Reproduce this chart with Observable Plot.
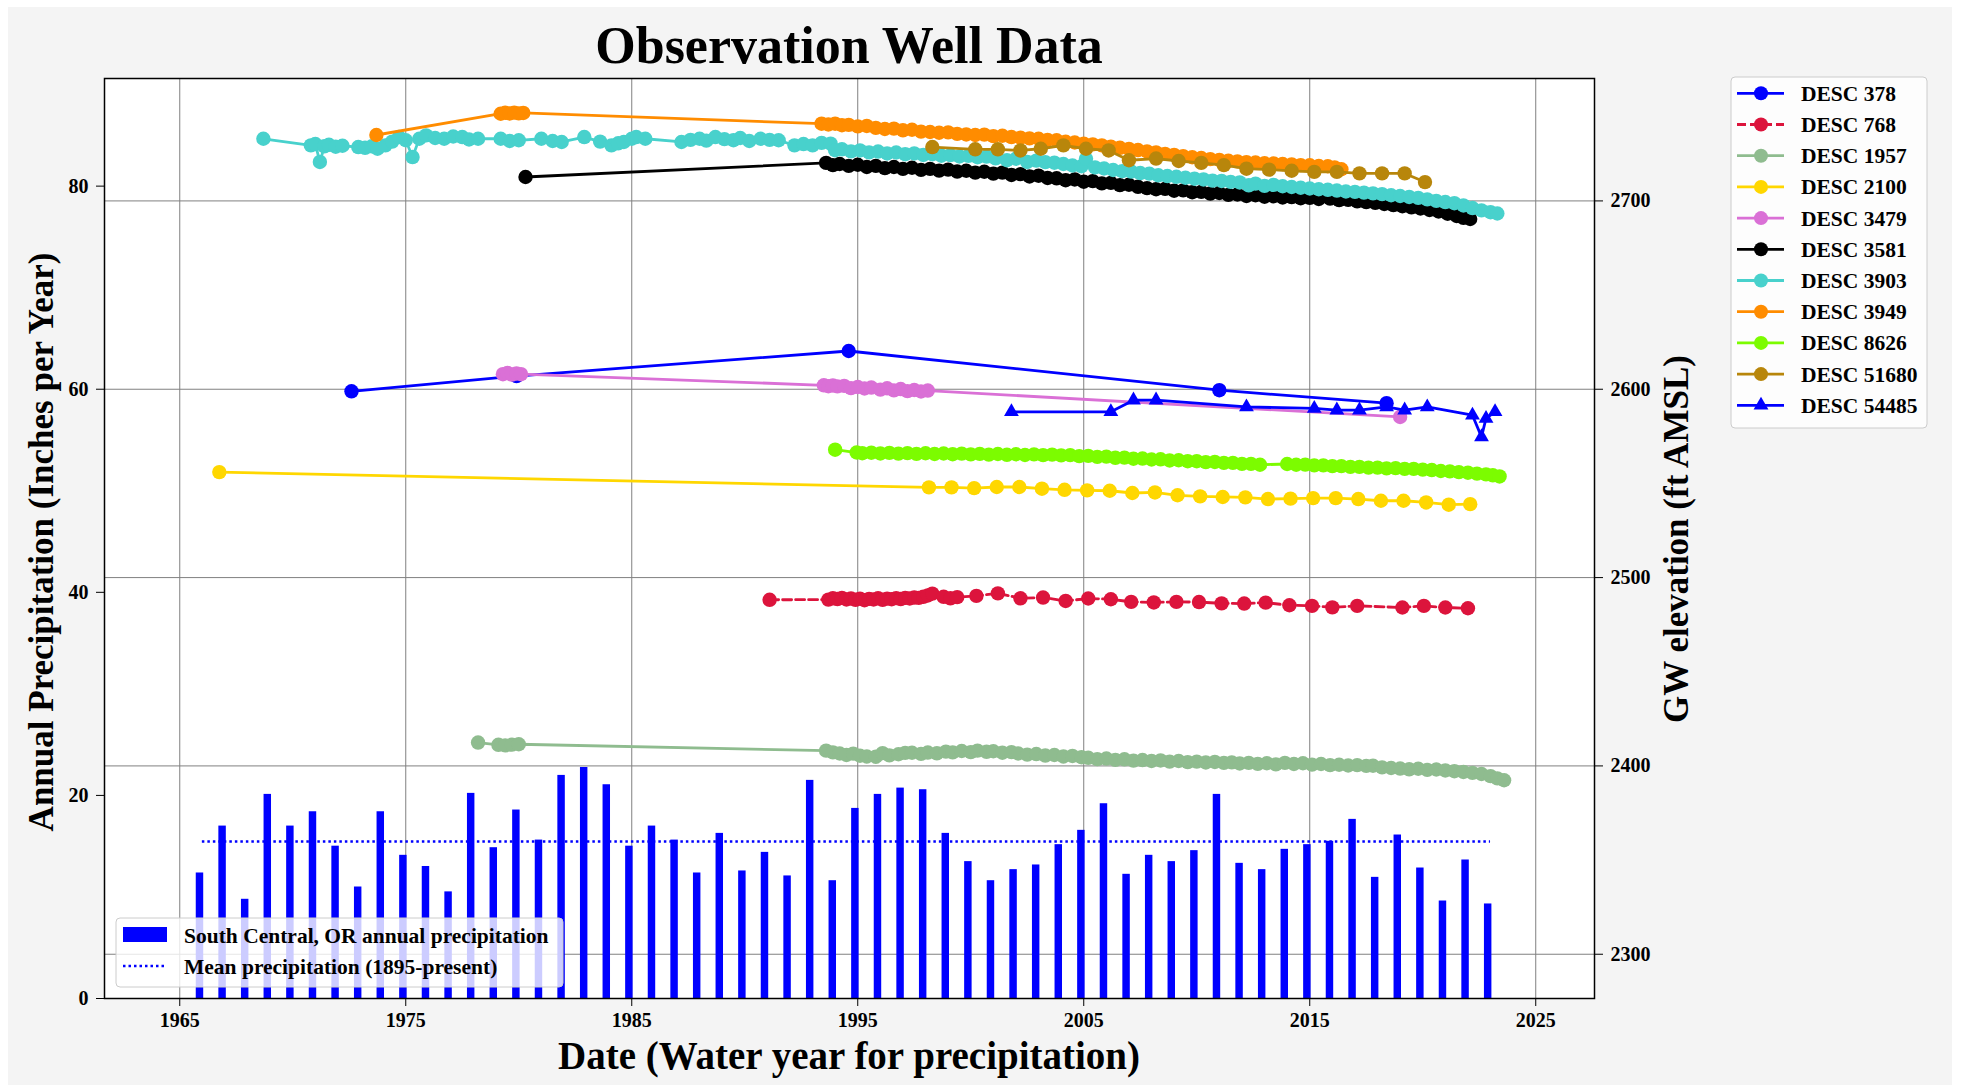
<!DOCTYPE html>
<html><head><meta charset="utf-8">
<script src="https://cdn.jsdelivr.net/npm/d3@7"></script>
<script src="https://cdn.jsdelivr.net/npm/@observablehq/plot@0.6"></script>
<style>
html,body{margin:0;padding:0;background:#fff;}
#bg{position:absolute;left:8px;top:7px;width:1944px;height:1078px;background:#f4f4f4;}
#chart{position:absolute;left:0;top:0;}
</style></head><body><div id="bg"></div><div id="chart"></div>
<script>
// ---------------- DATA ----------------
const precipYears = [1966,1967,1968,1969,1970,1971,1972,1973,1974,1975,1976,1977,1978,1979,1980,1981,1982,1983,1984,1985,1986,1987,1988,1989,1990,1991,1992,1993,1994,1995,1996,1997,1998,1999,2000,2001,2002,2003,2004,2005,2006,2007,2008,2009,2010,2011,2012,2013,2014,2015,2016,2017,2018,2019,2020,2021,2022,2023];
const precipValues = [12.36,16.98,9.77,20.1,16.98,18.39,15.0,10.98,18.39,14.1,13.0,10.5,20.2,14.85,18.56,15.6,21.97,22.75,21.05,15.0,16.98,15.6,12.36,16.26,12.56,14.39,12.07,21.48,11.6,18.72,20.1,20.72,20.56,16.26,13.48,11.6,12.69,13.15,15.15,16.56,19.18,12.23,14.1,13.48,14.56,20.1,13.31,12.69,14.69,15.15,15.48,17.64,11.93,16.1,12.85,9.6,13.64,9.31];
const meanPrecip = 15.45;

const xTicks = [1965,1975,1985,1995,2005,2015,2025];
const precipTicks = [0,20,40,60,80];
const elevTicks = [2300,2400,2500,2600,2700];

const wellNames = ["DESC 378","DESC 768","DESC 1957","DESC 2100","DESC 3479","DESC 3581","DESC 3903","DESC 3949","DESC 8626","DESC 51680","DESC 54485"];
const wellColors = ["#0000ff","#dc143c","#8fbc8f","#ffd700","#da70d6","#000000","#48d1cc","#ff8c00","#7cfc00","#b8860b","#0000ff"];
const wellSymbols = ["circle","circle","circle","circle","circle","circle","circle","circle","circle","circle","triangle"];
const wellDashed = [false,true,false,false,false,false,false,false,false,false,false];

const desc378 = [[1972.6,2598.9],[1979.9,2607.0],[1994.6,2620.3],[2011.0,2599.5],[2018.4,2592.6]];
const desc768 = [[1991.1,2488.2],[1993.7,2488.3],[1993.9,2489.0],[1994.1,2488.6],[1994.3,2489.2],[1994.5,2488.4],[1994.7,2488.9],[1994.9,2488.2],[1995.1,2488.8],[1995.3,2488.0],[1995.5,2488.7],[1995.7,2488.4],[1995.9,2489.0],[1996.1,2488.2],[1996.3,2488.8],[1996.5,2488.5],[1996.7,2489.1],[1996.9,2488.6],[1997.1,2489.2],[1997.3,2488.9],[1997.5,2489.4],[1997.7,2489.2],[1997.9,2489.8],[1998.1,2490.5],[1998.3,2491.5],[1998.8,2489.8],[1999.1,2489.0],[1999.4,2489.6],[2000.25,2490.3],[2001.2,2491.6],[2002.2,2489.0],[2003.2,2489.4],[2004.2,2487.6],[2005.2,2488.9],[2006.2,2488.5],[2007.1,2487.1],[2008.1,2486.8],[2009.1,2487.1],[2010.1,2487.0],[2011.1,2486.3],[2012.1,2486.2],[2013.05,2486.7],[2014.1,2485.3],[2015.1,2485.0],[2016.0,2484.2],[2017.1,2485.0],[2019.1,2484.1],[2020.05,2485.0],[2021.0,2484.1],[2022.0,2483.7]];
const desc1957 = [[1978.2,2412.4],[1979.1,2411.2],[1979.4,2410.9],[1979.7,2411.3],[1980.0,2411.5],[1993.6,2408.1],[1993.9,2407.2],[1994.2,2406.6],[1994.5,2405.8],[1994.8,2406.5],[1995.1,2405.4],[1995.4,2405.0],[1995.8,2404.9],[1996.1,2406.8],[1996.4,2405.6],[1996.8,2406.2],[1997.1,2406.9],[1997.4,2407.0],[1997.8,2406.4],[1998.1,2407.1],[1998.5,2406.7],[1998.9,2407.6],[1999.2,2407.2],[1999.6,2407.9],[2000.0,2407.3],[2000.3,2408.1],[2000.7,2407.5],[2001.0,2407.8],[2001.4,2407.0],[2001.8,2407.3],[2002.1,2406.6],[2002.5,2406.0],[2002.9,2406.3],[2003.3,2405.5],[2003.7,2405.8],[2004.1,2405.0],[2004.5,2405.3],[2004.9,2404.6],[2005.2,2404.3],[2005.6,2403.6],[2006.0,2403.9],[2006.4,2403.2],[2006.8,2403.5],[2007.2,2402.8],[2007.6,2403.1],[2008.0,2402.6],[2008.4,2402.9],[2008.8,2402.3],[2009.2,2402.6],[2009.6,2402.0],[2010.0,2402.3],[2010.4,2401.8],[2010.8,2402.1],[2011.2,2401.6],[2011.55,2401.9],[2011.9,2401.3],[2012.3,2401.6],[2012.7,2401.1],[2013.1,2401.4],[2013.5,2400.8],[2013.9,2401.6],[2014.3,2401.0],[2014.7,2401.4],[2015.1,2400.7],[2015.5,2401.0],[2015.9,2400.4],[2016.3,2400.6],[2016.7,2400.2],[2017.1,2400.4],[2017.5,2400.0],[2017.8,2400.1],[2018.2,2399.2],[2018.6,2398.9],[2019.0,2398.6],[2019.4,2398.2],[2019.8,2398.5],[2020.2,2397.9],[2020.6,2398.1],[2021.0,2397.6],[2021.4,2397.2],[2021.8,2396.8],[2022.2,2396.3],[2022.6,2395.7],[2023.0,2394.6],[2023.3,2393.4],[2023.6,2392.4]];
const desc2100 = [[1966.75,2556.0],[1998.15,2547.9],[1999.15,2547.9],[2000.15,2547.5],[2001.15,2548.1],[2002.15,2548.1],[2003.15,2547.2],[2004.15,2546.6],[2005.15,2546.3],[2006.15,2546.1],[2007.15,2544.9],[2008.15,2545.2],[2009.15,2543.7],[2010.15,2543.1],[2011.15,2542.8],[2012.15,2542.6],[2013.15,2541.7],[2014.15,2541.9],[2015.15,2542.2],[2016.15,2542.2],[2017.15,2541.7],[2018.15,2540.8],[2019.15,2540.8],[2020.15,2539.9],[2021.15,2538.7],[2022.1,2539.0]];
const desc3479 = [[1979.3,2608.0],[1979.5,2608.6],[1979.7,2607.8],[1979.9,2608.4],[1980.1,2608.0],[1993.5,2602.1],[1993.7,2601.6],[1993.9,2602.0],[1994.1,2601.5],[1994.4,2601.8],[1994.7,2600.6],[1995.0,2601.2],[1995.3,2600.4],[1995.6,2600.9],[1996.0,2599.8],[1996.3,2600.5],[1996.6,2599.4],[1996.9,2600.1],[1997.2,2599.0],[1997.5,2599.6],[1997.8,2598.8],[1998.1,2599.3],[2019.0,2585.3]];
const desc3581 = [[1980.3,2712.7],[1993.6,2720.2],[1993.9,2719.0],[1994.2,2719.6],[1994.6,2718.6],[1995.0,2719.2],[1995.4,2718.0],[1995.8,2718.6],[1996.2,2717.4],[1996.6,2718.0],[1997.0,2717.0],[1997.4,2717.6],[1997.8,2716.5],[1998.2,2717.0],[1998.6,2716.1],[1999.0,2716.6],[1999.4,2715.6],[1999.8,2716.0],[2000.2,2715.0],[2000.6,2715.5],[2001.0,2714.5],[2001.4,2715.0],[2001.8,2713.8],[2002.2,2714.2],[2002.6,2713.0],[2003.0,2713.4],[2003.4,2712.2],[2003.8,2712.0],[2004.2,2711.0],[2004.6,2711.4],[2005.0,2710.2],[2005.4,2710.5],[2005.8,2709.3],[2006.2,2709.6],[2006.6,2708.4],[2007.0,2708.6],[2007.4,2707.5],[2007.8,2706.8],[2008.2,2706.2],[2008.6,2706.4],[2009.0,2705.4],[2009.4,2705.6],[2009.8,2704.6],[2010.2,2704.8],[2010.6,2703.9],[2011.0,2704.2],[2011.4,2703.2],[2011.8,2703.4],[2012.2,2702.6],[2012.6,2703.0],[2013.0,2702.2],[2013.4,2702.5],[2013.8,2701.8],[2014.2,2702.0],[2014.6,2701.4],[2015.0,2701.6],[2015.4,2701.0],[2015.6,2705.0],[2015.9,2701.2],[2016.3,2700.4],[2016.7,2700.6],[2017.1,2699.8],[2017.5,2699.4],[2017.9,2699.0],[2018.3,2698.4],[2018.7,2697.8],[2019.1,2697.2],[2019.5,2696.6],[2019.9,2696.0],[2020.3,2695.2],[2020.7,2694.4],[2021.1,2693.2],[2021.5,2692.0],[2021.8,2691.0],[2022.1,2690.4]];
const desc3903 = [[1968.7,2733.0],[1970.8,2729.5],[1971.0,2730.2],[1971.2,2720.7],[1971.4,2729.0],[1971.6,2729.8],[1971.9,2728.8],[1972.2,2729.3],[1972.9,2728.6],[1973.2,2728.2],[1973.5,2729.0],[1973.75,2727.7],[1974.1,2729.5],[1974.4,2731.5],[1974.7,2733.9],[1975.0,2732.2],[1975.3,2723.3],[1975.6,2733.0],[1975.9,2734.8],[1976.3,2733.4],[1976.7,2733.0],[1977.1,2734.2],[1977.5,2733.9],[1977.8,2732.6],[1978.2,2733.0],[1979.2,2733.0],[1979.6,2731.8],[1980.0,2732.2],[1981.0,2733.0],[1981.5,2731.8],[1981.9,2731.3],[1982.9,2733.9],[1983.6,2731.5],[1984.1,2729.5],[1984.4,2730.6],[1984.65,2731.3],[1985.0,2733.0],[1985.2,2733.9],[1985.6,2733.0],[1987.2,2731.3],[1987.6,2732.4],[1988.0,2733.0],[1988.3,2732.0],[1988.7,2733.9],[1989.1,2732.8],[1989.5,2732.2],[1989.8,2733.4],[1990.2,2731.8],[1990.7,2733.0],[1991.1,2732.4],[1991.5,2732.2],[1992.2,2729.5],[1992.6,2730.2],[1993.0,2729.5],[1993.4,2730.8],[1993.8,2730.4],[1994.0,2726.9],[1994.3,2727.4],[1994.7,2726.3],[1995.1,2726.8],[1995.5,2725.8],[1995.9,2726.2],[1996.3,2725.2],[1996.7,2725.7],[1997.1,2724.8],[1997.5,2725.2],[1997.9,2724.4],[1998.3,2724.8],[1998.7,2724.0],[1999.1,2724.3],[1999.5,2723.6],[1999.9,2723.9],[2000.3,2723.2],[2000.7,2723.5],[2001.1,2722.6],[2001.6,2721.6],[2002.0,2722.4],[2002.5,2720.7],[2002.9,2721.4],[2003.3,2720.6],[2003.7,2720.3],[2004.1,2719.6],[2004.5,2718.8],[2004.9,2718.4],[2005.1,2722.4],[2005.5,2717.8],[2005.9,2717.2],[2006.3,2716.4],[2006.7,2715.8],[2007.1,2715.6],[2007.5,2714.8],[2007.9,2714.5],[2008.3,2713.6],[2008.7,2713.2],[2009.1,2712.8],[2009.5,2712.3],[2009.9,2711.8],[2010.3,2711.4],[2010.7,2710.8],[2011.1,2710.6],[2011.5,2710.1],[2011.9,2709.8],[2012.3,2708.3],[2012.6,2709.2],[2013.0,2708.0],[2013.4,2708.5],[2013.8,2707.8],[2014.2,2707.4],[2014.6,2707.0],[2015.0,2706.6],[2015.4,2706.2],[2015.8,2705.9],[2016.2,2705.5],[2016.6,2705.0],[2017.0,2704.8],[2017.4,2704.4],[2017.8,2704.0],[2018.2,2703.6],[2018.6,2703.0],[2019.0,2702.6],[2019.4,2702.1],[2019.8,2701.6],[2020.2,2700.8],[2020.6,2700.0],[2021.0,2699.4],[2021.4,2698.8],[2021.8,2697.6],[2022.2,2696.2],[2022.6,2695.0],[2023.0,2694.0],[2023.3,2693.3]];
const desc3949 = [[1973.7,2735.0],[1979.2,2746.3],[1979.4,2746.8],[1979.6,2746.4],[1979.8,2746.9],[1980.0,2746.5],[1980.2,2746.7],[1993.4,2741.0],[1993.7,2740.6],[1994.0,2741.0],[1994.3,2740.2],[1994.6,2740.4],[1995.0,2739.6],[1995.4,2739.8],[1995.8,2738.8],[1996.2,2738.2],[1996.6,2738.4],[1997.0,2737.5],[1997.4,2737.8],[1997.8,2736.8],[1998.2,2736.6],[1998.6,2736.2],[1999.0,2736.4],[1999.4,2735.6],[1999.8,2735.3],[2000.2,2735.0],[2000.6,2735.2],[2001.0,2734.4],[2001.4,2734.6],[2001.8,2733.9],[2002.2,2733.6],[2002.6,2733.2],[2003.0,2733.0],[2003.4,2732.4],[2003.8,2732.2],[2004.2,2731.4],[2004.6,2731.0],[2005.0,2730.4],[2005.4,2730.0],[2005.8,2729.5],[2006.2,2728.8],[2006.6,2728.2],[2007.0,2727.6],[2007.4,2727.0],[2007.8,2726.3],[2008.2,2725.8],[2008.6,2725.0],[2009.0,2724.4],[2009.4,2723.8],[2009.8,2723.2],[2010.2,2722.8],[2010.6,2722.2],[2011.0,2721.8],[2011.4,2721.3],[2011.8,2721.0],[2012.2,2720.6],[2012.6,2720.4],[2013.0,2720.0],[2013.4,2719.9],[2013.8,2719.6],[2014.2,2719.4],[2014.6,2719.0],[2015.0,2718.9],[2015.4,2718.5],[2015.8,2718.4],[2016.1,2717.8],[2016.4,2716.8]];
const desc8626 = [[1994.0,2567.9],[1994.95,2566.4],[1995.2,2566.0],[1995.6,2566.3],[1996.0,2565.9],[1996.4,2566.2],[1996.8,2565.8],[1997.2,2566.1],[1997.6,2565.7],[1998.0,2566.0],[1998.4,2565.6],[1998.8,2565.9],[1999.2,2565.5],[1999.6,2565.8],[2000.0,2565.4],[2000.4,2565.7],[2000.8,2565.3],[2001.2,2565.6],[2001.6,2565.2],[2002.0,2565.5],[2002.4,2565.1],[2002.8,2565.4],[2003.2,2565.0],[2003.6,2565.3],[2004.0,2564.9],[2004.4,2565.0],[2004.8,2564.5],[2005.2,2564.6],[2005.6,2564.1],[2006.0,2564.2],[2006.4,2563.6],[2006.8,2563.7],[2007.2,2563.1],[2007.6,2563.2],[2008.0,2562.7],[2008.4,2562.8],[2008.8,2562.2],[2009.2,2562.3],[2009.6,2561.8],[2010.0,2561.8],[2010.4,2561.3],[2010.8,2561.4],[2011.2,2560.9],[2011.6,2560.9],[2012.0,2560.4],[2012.4,2560.4],[2012.8,2559.9],[2014.0,2560.3],[2014.4,2559.9],[2014.8,2560.0],[2015.2,2559.6],[2015.6,2559.6],[2016.0,2559.2],[2016.4,2559.2],[2016.8,2558.8],[2017.2,2558.8],[2017.6,2558.4],[2018.0,2558.4],[2018.4,2558.0],[2018.8,2558.1],[2019.2,2557.7],[2019.6,2557.7],[2020.0,2557.3],[2020.4,2557.1],[2020.8,2556.6],[2021.2,2556.4],[2021.6,2556.0],[2022.0,2555.7],[2022.4,2555.2],[2022.8,2554.8],[2023.1,2554.3],[2023.4,2553.7]];
const desc51680 = [[1998.3,2728.6],[2000.2,2727.4],[2001.2,2727.4],[2002.2,2726.8],[2003.1,2727.7],[2004.1,2729.5],[2005.1,2727.7],[2006.1,2726.8],[2007.0,2721.6],[2008.2,2722.5],[2009.2,2721.2],[2010.2,2720.2],[2011.2,2719.0],[2012.2,2717.1],[2013.2,2716.6],[2014.2,2716.0],[2015.2,2715.4],[2016.2,2715.4],[2017.2,2714.6],[2018.2,2714.6],[2019.2,2714.6],[2020.1,2710.0]];
const desc54485 = [[2001.8,2588.0],[2006.2,2588.0],[2007.2,2594.2],[2008.2,2594.2],[2012.2,2590.6],[2015.2,2589.8],[2016.2,2588.9],[2017.2,2588.9],[2018.4,2590.6],[2019.2,2588.9],[2020.2,2590.6],[2022.2,2586.2],[2022.6,2574.7],[2022.8,2584.5],[2023.2,2588.0]];

const wellData = [desc378,desc768,desc1957,desc2100,desc3479,desc3581,desc3903,desc3949,desc8626,desc51680,desc54485];

// ---------------- CHART ----------------
const W = 1965, H = 1089;
const mL = 104, mR = 371, mT = 78, mB = 91;
const FONT = "'Liberation Serif','Times New Roman',Times,serif";
const precipDomain = [0, 90.6];
const elevDomain = [2276.5, 2765];
// twin axis: map GW elevation onto the precipitation y scale
const toY = d3.scaleLinear().domain(elevDomain).range(precipDomain);

const precip = precipYears.map((y, i) => ({year: y, value: precipValues[i]}));

const marks = [
  Plot.frame({fill: "white"}),
  Plot.gridX(xTicks, {stroke: "#808080", strokeOpacity: 1, strokeWidth: 1}),
  Plot.gridY(elevTicks.map(e => toY(e)), {stroke: "#808080", strokeOpacity: 1, strokeWidth: 1}),
  Plot.rectY(precip, {x1: d => d.year - 0.27, x2: d => d.year + 0.06, y: "value", fill: "#0000ff"}),
  Plot.ruleY([meanPrecip], {x1: precipYears[0], x2: precipYears[precipYears.length - 1], stroke: "#0000ff", strokeWidth: 2.5, strokeDasharray: "2.5,3"})
];

wellData.forEach((data, i) => {
  const rows = data.map(([yr, el]) => ({yr, el}));
  marks.push(Plot.line(rows, {x: "yr", y: d => toY(d.el), stroke: wellColors[i], strokeWidth: 2.8,
    strokeDasharray: wellDashed[i] ? "9,4" : null}));
  marks.push(Plot.dot(rows, {x: "yr", y: d => toY(d.el), fill: wellColors[i], stroke: "none",
    symbol: wellSymbols[i], r: wellSymbols[i] === "triangle" ? 5.5 : 7.2}));
});

marks.push(
  Plot.frame({stroke: "black", strokeWidth: 1.5}),
  Plot.axisX(xTicks, {tickSize: 8, tickPadding: 6, fontSize: 20, fontWeight: "bold", tickFormat: d => String(d), label: null}),
  Plot.axisY(precipTicks, {anchor: "left", tickSize: 8, tickPadding: 8, fontSize: 20, fontWeight: "bold", label: null}),
  Plot.axisY(elevTicks.map(e => toY(e)), {anchor: "right", tickSize: 8, tickPadding: 8, fontSize: 20, fontWeight: "bold",
    tickFormat: d => String(Math.round(toY.invert(d))), label: null})
);

const svg = Plot.plot({
  width: W, height: H,
  marginLeft: mL, marginRight: mR, marginTop: mT, marginBottom: mB,
  x: {domain: [1961.67, 2027.6]},
  y: {domain: precipDomain},
  style: {fontFamily: FONT, background: "transparent", color: "black", overflow: "visible"},
  marks
});

const s = d3.select(svg);
const txt = (x, y, t, size, anchor = "middle", rot = 0) => {
  const el = s.append("text").attr("transform", `translate(${x},${y}) rotate(${rot})`)
    .attr("text-anchor", anchor).attr("font-family", FONT).attr("font-weight", "bold")
    .attr("font-size", size).attr("fill", "black").text(t);
  return el;
};
txt(849, 63, "Observation Well Data", 52);
txt(849, 1069, "Date (Water year for precipitation)", 39);
txt(53, 542, "Annual Precipitation (Inches per Year)", 35, "middle", -90);
txt(1688, 539, "GW elevation (ft AMSL)", 35, "middle", -90);

// lower-left legend (precipitation)
const lg1 = s.append("g");
lg1.append("rect").attr("x", 116).attr("y", 918).attr("width", 447).attr("height", 69).attr("rx", 4)
  .attr("fill", "white").attr("fill-opacity", 0.8).attr("stroke", "#cccccc");
lg1.append("rect").attr("x", 123).attr("y", 927).attr("width", 44).attr("height", 15).attr("fill", "#0000ff");
lg1.append("line").attr("x1", 123).attr("x2", 167).attr("y1", 966).attr("y2", 966)
  .attr("stroke", "#0000ff").attr("stroke-width", 2.5).attr("stroke-dasharray", "2.5,3");
[["South Central, OR annual precipitation", 935], ["Mean precipitation (1895-present)", 966]].forEach(([t, y]) => {
  lg1.append("text").attr("x", 184).attr("y", y).attr("dy", "0.35em").attr("text-anchor", "start")
    .attr("font-family", FONT).attr("font-weight", "bold").attr("font-size", 21.5).attr("fill", "black").text(t);
});

// right legend (wells)
const lg2 = s.append("g");
lg2.append("rect").attr("x", 1731).attr("y", 77).attr("width", 196).attr("height", 351).attr("rx", 4)
  .attr("fill", "white").attr("fill-opacity", 0.8).attr("stroke", "#cccccc");
wellNames.forEach((name, i) => {
  const y = 93.3 + 31.2 * i;
  lg2.append("line").attr("x1", 1737).attr("x2", 1784).attr("y1", y).attr("y2", y)
    .attr("stroke", wellColors[i]).attr("stroke-width", 2.8)
    .attr("stroke-dasharray", wellDashed[i] ? "9,4" : null);
  if (wellSymbols[i] === "triangle") {
    lg2.append("path").attr("transform", `translate(1761,${y})`)
      .attr("d", d3.symbol(d3.symbolTriangle, Math.PI * 5.5 * 5.5)()).attr("fill", wellColors[i]);
  } else {
    lg2.append("circle").attr("cx", 1761).attr("cy", y).attr("r", 7).attr("fill", wellColors[i]);
  }
  lg2.append("text").attr("x", 1801).attr("y", y).attr("dy", "0.35em").attr("text-anchor", "start")
    .attr("font-family", FONT).attr("font-weight", "bold").attr("font-size", 21.5).attr("fill", "black").text(name);
});

document.getElementById("chart").appendChild(svg);
</script></body></html>
